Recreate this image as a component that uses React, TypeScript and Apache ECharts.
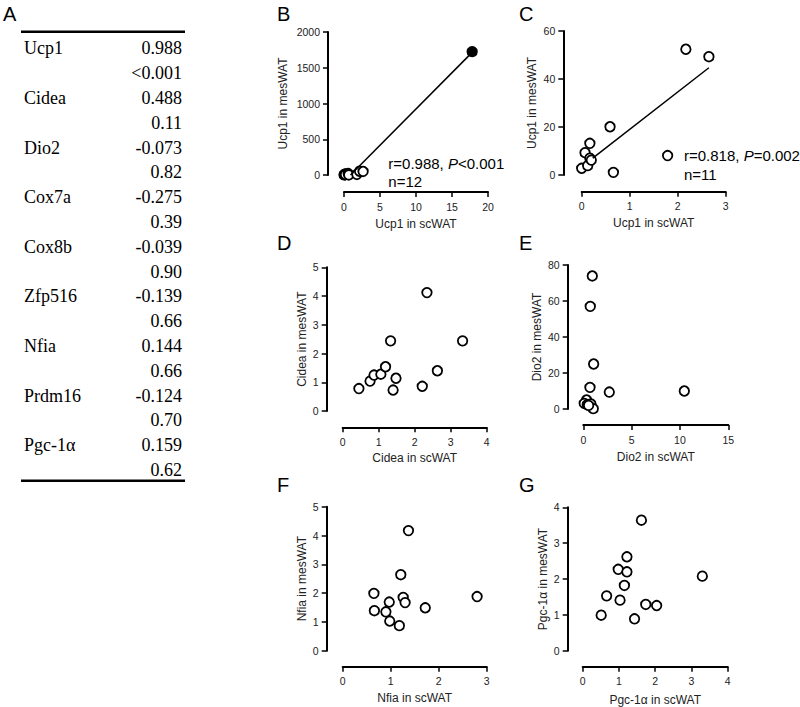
import React, { useEffect, useRef } from 'react';
import * as echarts from 'echarts';

// ---- Table A ----
const genes = ['Ucp1', 'Cidea', 'Dio2', 'Cox7a', 'Cox8b', 'Zfp516', 'Nfia', 'Prdm16', 'Pgc-1α'];
const rValues = ['0.988', '0.488', '-0.073', '-0.275', '-0.039', '-0.139', '0.144', '-0.124', '0.159'];
const pValues = ['<0.001', '0.11', '0.82', '0.39', '0.90', '0.66', '0.66', '0.70', '0.62'];

// ---- Panel C (and B without the outlier) ----
const ucp1Sc = [0.0, 0.07, 0.125, 0.17, 0.17, 0.2, 0.59, 0.66, 1.79, 2.17, 2.65];
const ucp1Mes = [2.8, 9.3, 3.9, 13.2, 7.0, 6.2, 20.1, 1.1, 8.1, 52.4, 49.3];
const ucp1OutlierSc = [17.8];
const ucp1OutlierMes = [1725];
const fitB = [[0.9, 0], [17.8, 1715]];
const fitC = [[0.23, 7.0], [2.65, 44.7]];

// ---- Panel D ----
const cideaSc = [0.45, 0.76, 0.87, 1.06, 1.19, 1.33, 1.4, 1.48, 2.21, 2.34, 2.63, 3.33];
const cideaMes = [0.78, 1.04, 1.25, 1.28, 1.54, 2.44, 0.73, 1.14, 0.86, 4.12, 1.4, 2.44];

// ---- Panel E ----
const dio2Sc = [0.93, 0.72, 1.07, 0.69, 2.69, 10.45, 0.34, 0.1, 0.41, 0.79, 1.03, 0.55];
const dio2Mes = [73.9, 57.0, 25.0, 12.0, 9.4, 10.0, 5.0, 3.1, 2.4, 2.8, 0.2, 2.0];

// ---- Panel F ----
const nfiaSc = [1.37, 1.21, 0.65, 1.26, 0.97, 1.3, 2.8, 1.72, 0.66, 0.9, 0.98, 1.18];
const nfiaMes = [4.17, 2.64, 1.99, 1.85, 1.69, 1.67, 1.88, 1.49, 1.39, 1.35, 1.03, 0.87];

// ---- Panel G ----
const pgcSc = [1.62, 1.22, 0.98, 1.22, 3.3, 1.15, 0.66, 1.03, 1.74, 2.04, 0.51, 1.43];
const pgcMes = [3.64, 2.62, 2.27, 2.2, 2.08, 1.82, 1.53, 1.41, 1.29, 1.26, 0.99, 0.89];

const SANS = '"Liberation Sans", Arial, Helvetica, sans-serif';
const SERIF = '"Liberation Serif", "Times New Roman", Times, serif';

type Panel = {
  letter: string;
  grid: { left: number; top: number; width: number; height: number };
  xMax: number; xInt: number; yMax: number; yInt: number;
  xName: string; yName: string;
  xOffset: number; yOffset: number;
  xNameGap: number; yNameGap: number;
  points: number[][];
  filled?: number[][];
  fit?: number[][];
};

const zip = (a: number[], b: number[]) => a.map((v, i) => [v, b[i]]);

const panels: Panel[] = [
  {
    letter: 'B', grid: { left: 344, top: 32, width: 144, height: 143 },
    xMax: 20, xInt: 5, yMax: 2000, yInt: 500,
    xName: 'Ucp1 in scWAT', yName: 'Ucp1 in mesWAT',
    xOffset: 17, yOffset: 16, xNameGap: 25.5, yNameGap: 39,
    points: zip(ucp1Sc, ucp1Mes), filled: zip(ucp1OutlierSc, ucp1OutlierMes), fit: fitB,
  },
  {
    letter: 'C', grid: { left: 581.7, top: 31, width: 144, height: 144 },
    xMax: 3, xInt: 1, yMax: 60, yInt: 20,
    xName: 'Ucp1 in scWAT', yName: 'Ucp1 in mesWAT',
    xOffset: 16.7, yOffset: 18.4, xNameGap: 25.5, yNameGap: 25,
    points: zip(ucp1Sc, ucp1Mes), fit: fitC,
  },
  {
    letter: 'D', grid: { left: 342.7, top: 267.3, width: 144, height: 143.7 },
    xMax: 4, xInt: 1, yMax: 5, yInt: 1,
    xName: 'Cidea in scWAT', yName: 'Cidea in mesWAT',
    xOffset: 16.3, yOffset: 16, xNameGap: 24.5, yNameGap: 19,
    points: zip(cideaSc, cideaMes),
  },
  {
    letter: 'E', grid: { left: 583.3, top: 265, width: 145, height: 144 },
    xMax: 15, xInt: 5, yMax: 80, yInt: 20,
    xName: 'Dio2 in scWAT', yName: 'Dio2 in mesWAT',
    xOffset: 16, yOffset: 15.6, xNameGap: 25.5, yNameGap: 25,
    points: zip(dio2Sc, dio2Mes),
  },
  {
    letter: 'F', grid: { left: 342.7, top: 506.7, width: 144, height: 144 },
    xMax: 3, xInt: 1, yMax: 5, yInt: 1,
    xName: 'Nfia in scWAT', yName: 'Nfia in mesWAT',
    xOffset: 16, yOffset: 16, xNameGap: 25.5, yNameGap: 19,
    points: zip(nfiaSc, nfiaMes),
  },
  {
    letter: 'G', grid: { left: 582.7, top: 507.3, width: 145, height: 143.4 },
    xMax: 4, xInt: 1, yMax: 4, yInt: 1,
    xName: 'Pgc-1α in scWAT', yName: 'Pgc-1α in mesWAT',
    xOffset: 16, yOffset: 15, xNameGap: 27, yNameGap: 18.5,
    points: zip(pgcSc, pgcMes),
  },
];

const letterPos: Record<string, [number, number]> = {
  A: [3, 14], B: [277, 14], C: [519, 14], D: [277, 243], E: [519, 243], F: [277, 485], G: [519, 485],
};

function buildOption() {
  const grid: any[] = [];
  const xAxis: any[] = [];
  const yAxis: any[] = [];
  const series: any[] = [];
  const axisCommon = {
    axisLine: { show: true, onZero: false, lineStyle: { color: '#000', width: 2 } },
    axisTick: { show: true, length: 5, lineStyle: { color: '#000', width: 1.5 } },
    splitLine: { show: false },
    nameLocation: 'middle',
    nameTextStyle: { fontFamily: SANS, fontSize: 12, color: '#222' },
  };
  const labelFmt = (v: number) => String(v);
  panels.forEach((p, i) => {
    grid.push({ ...p.grid, containLabel: false });
    xAxis.push({
      ...axisCommon,
      type: 'value', gridIndex: i, min: 0, max: p.xMax, interval: p.xInt,
      offset: p.xOffset, name: p.xName, nameGap: p.xNameGap,
      axisLabel: { fontFamily: SANS, fontSize: 10.5, color: '#222', margin: 9, formatter: labelFmt },
    });
    yAxis.push({
      ...axisCommon,
      type: 'value', gridIndex: i, min: 0, max: p.yMax, interval: p.yInt,
      offset: p.yOffset, name: p.yName, nameGap: p.yNameGap,
      axisLabel: { fontFamily: SANS, fontSize: 10.5, color: '#222', margin: 8, formatter: labelFmt },
    });
    if (p.fit) {
      series.push({
        type: 'line', xAxisIndex: i, yAxisIndex: i, data: p.fit, symbol: 'none',
        lineStyle: { color: '#000', width: 1.5 }, silent: true,
      });
    }
    series.push({
      type: 'scatter', xAxisIndex: i, yAxisIndex: i, data: p.points, symbol: 'circle',
      symbolSize: 9.5, clip: false,
      itemStyle: { color: '#fff', borderColor: '#000', borderWidth: 1.8, opacity: 1 },
    });
    if (p.filled) {
      series.push({
        type: 'scatter', xAxisIndex: i, yAxisIndex: i, data: p.filled, symbol: 'circle',
        symbolSize: 9.5, clip: false,
        itemStyle: { color: '#000', borderColor: '#000', borderWidth: 1.8, opacity: 1 },
      });
    }
  });

  const graphic: any[] = [];
  const serifText = (text: string, x: number, y: number, align: string) => ({
    type: 'text', x, y,
    style: { text, fontFamily: SERIF, fontSize: 18, fill: '#000', align, verticalAlign: 'middle' },
  });
  // table rules
  graphic.push({ type: 'line', shape: { x1: 21, y1: 31.7, x2: 185, y2: 31.7 }, style: { stroke: '#000', lineWidth: 2.5 } });
  graphic.push({ type: 'line', shape: { x1: 21, y1: 480.7, x2: 185, y2: 480.7 }, style: { stroke: '#000', lineWidth: 2.5 } });
  const rowH = 24.8;
  genes.forEach((g, i) => {
    const y1 = 48.3 + i * 2 * rowH;
    const y2 = y1 + rowH;
    graphic.push(serifText(g, 24, y1, 'left'));
    graphic.push(serifText(rValues[i], 182, y1, 'right'));
    graphic.push(serifText(pValues[i], 182, y2, 'right'));
  });
  // panel letters
  Object.keys(letterPos).forEach((k) => {
    const [x, y] = letterPos[k];
    graphic.push({ type: 'text', x, y, style: { text: k, fontFamily: SANS, fontSize: 20, fill: '#000', align: 'left', verticalAlign: 'middle' } });
  });
  // annotations
  const ann = (x: number, y: number, r: string, pRel: string, n: string) => {
    graphic.push({
      type: 'text', x, y,
      style: {
        text: `{a|${r}, }{b|P}{a|${pRel}}`,
        rich: {
          a: { fontFamily: SANS, fontSize: 15, fill: '#000' },
          b: { fontFamily: SANS, fontSize: 15, fontStyle: 'italic', fill: '#000' },
        },
        fontFamily: SANS, fontSize: 15, fill: '#000', align: 'left', verticalAlign: 'middle',
      },
    });
    graphic.push({ type: 'text', x, y: y + 18.4, style: { text: n, fontFamily: SANS, fontSize: 15, fill: '#000', align: 'left', verticalAlign: 'middle' } });
  };
  ann(388.3, 163.3, 'r=0.988', '<0.001', 'n=12');
  ann(684, 155.7, 'r=0.818', '=0.002', 'n=11');

  return { animation: false, backgroundColor: '#fff', grid, xAxis, yAxis, series, graphic };
}

export default function App() {
  const ref = useRef<HTMLDivElement>(null);
  useEffect(() => {
    document.body.style.margin = '0';
    const chart = echarts.init(ref.current!, null, { renderer: 'svg' });
    chart.setOption(buildOption() as any);
    return () => chart.dispose();
  }, []);
  return <div ref={ref} style={{ width: 800, height: 707 }} />;
}
